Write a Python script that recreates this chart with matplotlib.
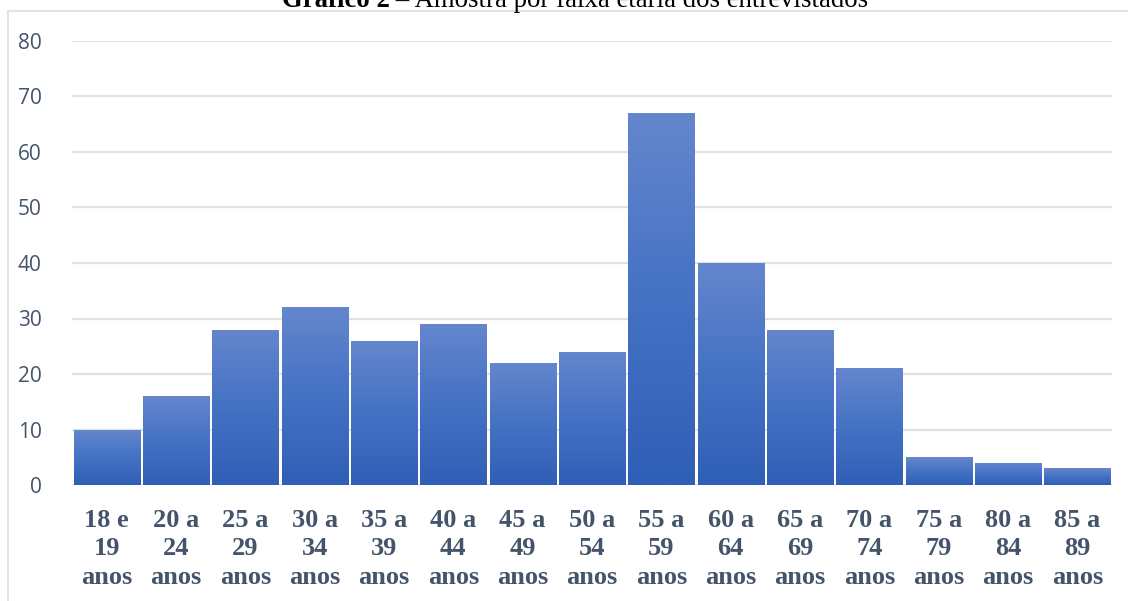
import matplotlib
matplotlib.use("Agg")
import matplotlib.pyplot as plt
import numpy as np
from matplotlib.colors import LinearSegmentedColormap
from matplotlib.lines import Line2D

# Age brackets and respondent counts
categories = ["18 e\n19\nanos", "20 a\n24\nanos", "25 a\n29\nanos", "30 a\n34\nanos",
              "35 a\n39\nanos", "40 a\n44\nanos", "45 a\n49\nanos", "50 a\n54\nanos",
              "55 a\n59\nanos", "60 a\n64\nanos", "65 a\n69\nanos", "70 a\n74\nanos",
              "75 a\n79\nanos", "80 a\n84\nanos", "85 a\n89\nanos"]
counts = [10, 16, 28, 32, 26, 29, 22, 24, 67, 40, 28, 21, 5, 4, 3]
y_ticks = [0, 10, 20, 30, 40, 50, 60, 70, 80]
title_bold = "Gráfico 2"
title_rest = " – Amostra por faixa etária dos entrevistados"

W, H = 1128, 601
fig = plt.figure(figsize=(W / 100, H / 100), dpi=100)
fig.patch.set_facecolor("white")

ax = fig.add_axes([72 / W, 1 - 485 / H, (1112 - 72) / W, (485 - 41) / H])

grid_col = "#dfe3e8"
for t in y_ticks:
    ax.axhline(t, color=grid_col, lw=1.6, zorder=0)

# bars with a vertical gradient, lighter at the top of each bar
cmap = LinearSegmentedColormap.from_list("bar", ["#2f5fb6", "#4472c4", "#6586cd"])
grad = np.linspace(0, 1, 256).reshape(-1, 1)
width = 0.955
bars = ax.bar(range(len(counts)), counts, width=width, color="none", edgecolor="none", zorder=2)
for rect in bars:
    x0, w, h = rect.get_x(), rect.get_width(), rect.get_height()
    im = ax.imshow(grad, extent=[x0, x0 + w, 0, h], origin="lower", cmap=cmap,
                   aspect="auto", zorder=2, interpolation="bilinear")
    im.set_clip_path(rect)
ax.set_xlim(-0.5, len(counts) - 0.5)
ax.set_ylim(0, 80)

for s in ax.spines.values():
    s.set_visible(False)
ax.set_yticks(y_ticks)
ax.set_yticklabels([str(t) for t in y_ticks], fontfamily="Open Sans",
                   fontsize=15, color="#44546a")
ax.tick_params(axis="y", length=0, pad=22)
ax.set_xticks(range(len(counts)))
ax.set_xticklabels(categories, fontfamily="Liberation Serif", fontweight="bold",
                   fontsize=19, color="#44546a", linespacing=1.32, va="top")
ax.tick_params(axis="x", length=0, pad=17)

# outer chart frame
fig.add_artist(Line2D([8 / W, 8 / W], [0, 1 - 11 / H], transform=fig.transFigure,
                      color="#dfe3e8", lw=1.5))
fig.add_artist(Line2D([8 / W, 1], [1 - 11 / H, 1 - 11 / H], transform=fig.transFigure,
                      color="#dfe3e8", lw=1.5))

# title in two parts (bold label + regular text), centred together
ty = 1 - 7 / H
t1 = fig.text(0, ty, title_bold, ha="left", va="baseline", fontsize=19.3,
              fontfamily="Liberation Serif", fontweight="bold", color="black")
t2 = fig.text(0, ty, title_rest, ha="left", va="baseline", fontsize=19.3,
              fontfamily="Liberation Serif", color="black")
fig.canvas.draw()
r = fig.canvas.get_renderer()
w1 = t1.get_window_extent(r).width
w2 = t2.get_window_extent(r).width
x_start = 575 - (w1 + w2) / 2
t1.set_x(x_start / W)
t2.set_x((x_start + w1) / W)

fig.savefig("out.png", dpi=100)
